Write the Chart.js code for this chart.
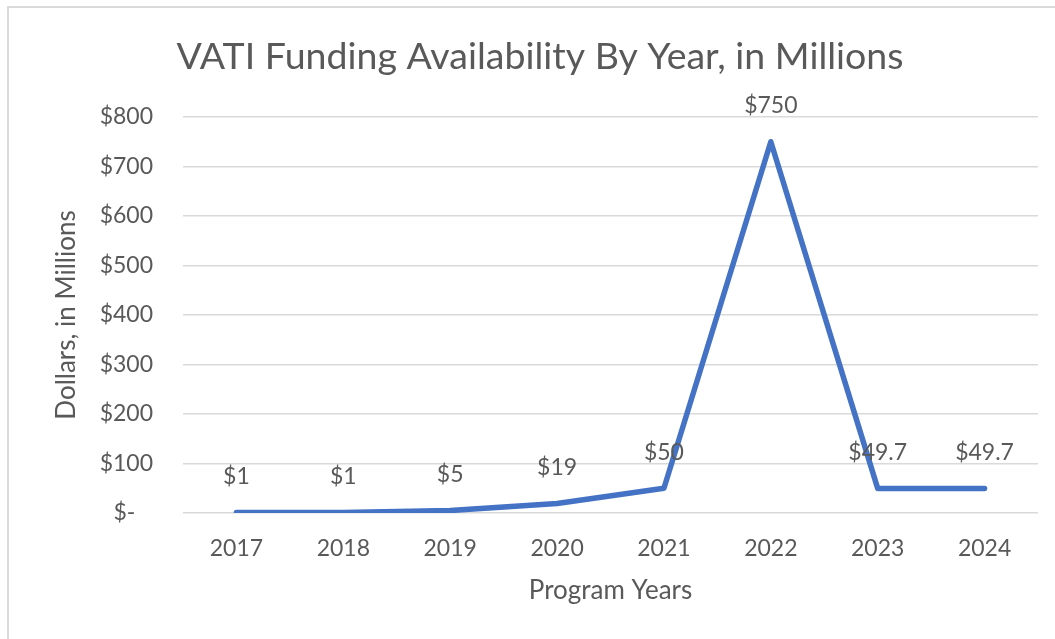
<!DOCTYPE html>
<html>
<head>
<meta charset="utf-8">
<title>VATI Funding Availability By Year</title>
<script src="https://cdn.jsdelivr.net/npm/chart.js@4/dist/chart.umd.min.js"></script>
<style>
  html, body { margin: 0; padding: 0; background: #fff; }
  #wrap { width: 1055px; height: 639px; }
</style>
</head>
<body>
<div id="wrap"><canvas id="chart" width="1055" height="639"></canvas></div>
<script>
const years = ["2017", "2018", "2019", "2020", "2021", "2022", "2023", "2024"];
const funding = [1, 1, 5, 19, 50, 750, 49.7, 49.7];
const fundingLabels = ["$1", "$1", "$5", "$19", "$50", "$750", "$49.7", "$49.7"];

const textColor = "#595959";
const gridColor = "#D9D9D9";
const fontFamily = "Lato, 'Open Sans', sans-serif";

// frame around the chart area, like the Excel chart border
const framePlugin = {
  id: "frame",
  beforeDraw(chart) {
    const ctx = chart.ctx;
    ctx.save();
    ctx.fillStyle = "#fff";
    ctx.fillRect(0, 0, chart.width, chart.height);
    ctx.strokeStyle = gridColor;
    ctx.lineWidth = 2;
    ctx.beginPath();
    ctx.moveTo(8, chart.height);
    ctx.lineTo(8, 7);
    ctx.lineTo(chart.width, 7);
    ctx.stroke();
    ctx.restore();
  },
};

// value labels above each point
const valueLabels = {
  id: "valueLabels",
  afterDatasetsDraw(chart) {
    const ctx = chart.ctx;
    const meta = chart.getDatasetMeta(0);
    ctx.save();
    ctx.font = "23px " + fontFamily;
    ctx.fillStyle = textColor;
    ctx.textAlign = "center";
    ctx.textBaseline = "middle";
    meta.data.forEach((pt, i) => {
      ctx.fillText(fundingLabels[i], pt.x, pt.y - 36);
    });
    ctx.restore();
  },
};

new Chart(document.getElementById("chart"), {
  type: "line",
  data: {
    labels: years,
    datasets: [
      {
        data: funding,
        borderColor: "#4472C4",
        borderWidth: 5.5,
        borderCapStyle: "round",
        borderJoinStyle: "round",
        pointRadius: 0,
        tension: 0,
        fill: false,
      },
    ],
  },
  options: {
    responsive: false,
    animation: false,
    layout: {
      padding: { left: 42, right: 17, top: 10, bottom: 20 },
    },
    plugins: {
      legend: { display: false },
      tooltip: { enabled: false },
      title: {
        display: true,
        text: "VATI Funding Availability By Year, in Millions",
        color: textColor,
        font: { family: fontFamily, size: 37.5, weight: "normal", lineHeight: 1.2 },
        padding: { top: 24, bottom: 38 },
      },
    },
    scales: {
      x: {
        offset: true,
        grid: { display: false, drawTicks: false, offset: true },
        border: { display: false },
        ticks: {
          color: textColor,
          font: { family: fontFamily, size: 23 },
          padding: 21.5,
          maxRotation: 0,
        },
        title: {
          display: true,
          text: "Program Years",
          color: textColor,
          font: { family: fontFamily, size: 26 },
          padding: { top: 0, bottom: 12.4 },
        },
        afterFit(scale) {
          scale.height = 106;
        },
      },
      y: {
        min: 0,
        max: 800,
        grid: { color: gridColor, lineWidth: 1.5, drawTicks: false },
        border: { display: false },
        ticks: {
          stepSize: 100,
          color: textColor,
          font: { family: fontFamily, size: 23 },
          padding: 30,
          callback: (v) => (v === 0 ? "$-   " : "$" + v),
        },
        title: {
          display: true,
          text: "Dollars, in Millions",
          color: textColor,
          font: { family: fontFamily, size: 26 },
          padding: { top: 9.4, bottom: 0 },
        },
        afterFit(scale) {
          scale.width = 141;
        },
      },
    },
  },
  plugins: [framePlugin, valueLabels],
});
</script>
</body>
</html>
